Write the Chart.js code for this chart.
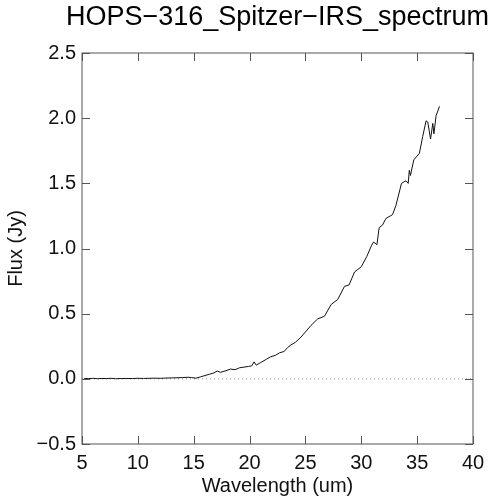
<!DOCTYPE html>
<html>
<head>
<meta charset="utf-8">
<script src="https://cdn.jsdelivr.net/npm/chart.js@4/dist/chart.umd.min.js"></script>
<style>
  html, body { margin: 0; padding: 0; background: #fff; }
  #wrap { width: 493px; height: 500px; }
</style>
</head>
<body>
<div id="wrap"><canvas id="myChart" width="493" height="500"></canvas></div>
<script>
const titleText = "HOPS\u2212316_Spitzer\u2212IRS_spectrum";

// wavelength (um) and flux (Jy)
const wavelength = [5.2, 5.6, 6.0, 6.4, 6.8, 7.2, 7.6, 8.0, 8.5, 9.0, 9.5, 10.0, 10.5, 11.0, 11.5, 12.0, 12.5, 13.0, 13.5, 14.0, 14.5, 14.8,
  15.2, 15.6, 16.0, 16.4, 16.8, 17.1, 17.4, 17.8, 18.3, 18.7, 19.1, 19.5, 19.9, 20.2, 20.4, 20.6, 21.0, 21.5, 21.9, 22.3, 22.7, 23.1,
  23.4, 23.7, 24.1, 24.6, 25.0, 25.5, 26.1, 26.7, 27.3, 27.9, 28.5, 28.9, 29.4, 30.0, 30.5, 30.9, 31.1, 31.4, 31.6, 31.9, 32.2, 32.8,
  33.1, 33.6, 34.0, 34.2, 34.3, 34.4, 34.7, 35.2, 35.5, 35.8, 35.95, 36.2, 36.4, 36.5, 36.7, 37.0];
const flux = [0.003, 0.002, 0.004, 0.001, 0.003, 0.002, 0.004, 0.001, 0.002, 0.003, 0.002, 0.004, 0.003, 0.004, 0.005, 0.004, 0.006, 0.007, 0.008, 0.010, 0.012, 0.010,
  0.005, 0.015, 0.025, 0.035, 0.045, 0.06, 0.05, 0.06, 0.075, 0.07, 0.085, 0.09, 0.095, 0.10, 0.13, 0.105, 0.125, 0.15, 0.17, 0.18, 0.20, 0.21,
  0.24, 0.26, 0.28, 0.32, 0.36, 0.41, 0.46, 0.48, 0.57, 0.61, 0.71, 0.72, 0.82, 0.86, 0.94, 1.02, 1.05, 1.03, 1.16, 1.18, 1.23, 1.26,
  1.33, 1.50, 1.52, 1.50, 1.60, 1.56, 1.68, 1.73, 1.86, 1.98, 1.97, 1.84, 1.96, 1.88, 2.02, 2.09];

// dotted zero reference line
const zeroX = [5, 40];
const zeroY = [0, 0];

const xTicks = [5, 10, 15, 20, 25, 30, 35, 40];
const yTicks = [-0.5, 0.0, 0.5, 1.0, 1.5, 2.0, 2.5];

const FONT = "'Liberation Sans', Arial, Helvetica, sans-serif";

const frameTicks = {
  id: 'frameTicks',
  afterDraw(chart) {
    const { ctx, chartArea: a, scales } = chart;
    ctx.save();
    ctx.strokeStyle = '#555';
    ctx.lineWidth = 1;
    ctx.strokeRect(a.left, a.top, a.right - a.left, a.bottom - a.top);
    ctx.beginPath();
    xTicks.forEach(v => {
      const px = Math.round(scales.x.getPixelForValue(v)) + 0.5;
      ctx.moveTo(px, a.bottom); ctx.lineTo(px, a.bottom - 8);
      ctx.moveTo(px, a.top); ctx.lineTo(px, a.top + 8);
    });
    yTicks.forEach(v => {
      const py = Math.round(scales.y.getPixelForValue(v)) + 0.5;
      ctx.moveTo(a.left, py); ctx.lineTo(a.left + 8, py);
      ctx.moveTo(a.right, py); ctx.lineTo(a.right - 8, py);
    });
    ctx.stroke();
    // title, centred over the plot box
    ctx.fillStyle = '#000';
    ctx.font = '27px ' + FONT;
    ctx.textAlign = 'center';
    ctx.textBaseline = 'middle';
    ctx.fillText(titleText, (a.left + a.right) / 2, 18);
    ctx.restore();
  }
};

new Chart('myChart', {
  type: 'line',
  data: {
    datasets: [{
      data: wavelength.map((w, i) => ({ x: w, y: flux[i] })),
      borderColor: '#111',
      borderWidth: 1,
      pointRadius: 0,
      tension: 0,
      fill: false
    }, {
      data: zeroX.map((w, i) => ({ x: w, y: zeroY[i] })),
      borderColor: '#888',
      borderWidth: 1,
      borderDash: [1, 3],
      pointRadius: 0,
      fill: false
    }]
  },
  plugins: [frameTicks],
  options: {
    responsive: false,
    animation: false,
    layout: { padding: { left: 0, top: 53, right: 20, bottom: 0 } },
    plugins: {
      legend: { display: false },
      tooltip: { enabled: false },
      title: { display: false }
    },
    scales: {
      x: {
        type: 'linear',
        min: 5,
        max: 40,
        afterBuildTicks: scale => { scale.ticks = xTicks.map(v => ({ value: v })); },
        afterFit: scale => { scale.height = 56; },
        grid: { display: false, drawTicks: false },
        border: { display: false },
        ticks: { color: '#111', font: { family: FONT, size: 20 }, padding: 7, maxRotation: 0, autoSkip: false },
        title: { display: true, text: 'Wavelength (um)', color: '#111', font: { family: FONT, size: 20 }, padding: { top: 0, bottom: 2 } }
      },
      y: {
        min: -0.5,
        max: 2.5,
        afterBuildTicks: scale => { scale.ticks = yTicks.map(v => ({ value: v })); },
        afterFit: scale => { scale.width = 82; },
        grid: { display: false, drawTicks: false },
        border: { display: false },
        ticks: {
          color: '#111',
          font: { family: FONT, size: 20 },
          padding: 6,
          callback: v => (v < 0 ? '\u2212' + Math.abs(v).toFixed(1) : v.toFixed(1))
        },
        title: { display: true, text: 'Flux (Jy)', color: '#111', font: { family: FONT, size: 20 }, padding: { top: 4, bottom: 0 } }
      }
    }
  }
});
</script>
</body>
</html>
